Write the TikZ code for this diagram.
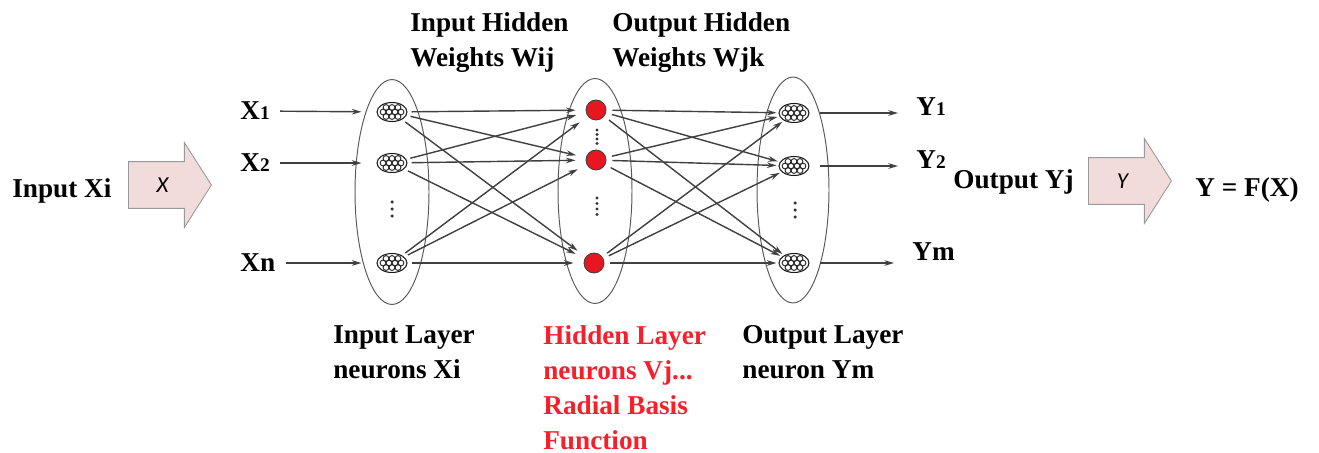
\documentclass[tikz,border=0pt]{standalone}
\usepackage{fontspec}
\setmainfont{Liberation Serif}
\newfontfamily\calfont{Carlito}
\usetikzlibrary{arrows.meta,shapes.geometric,shapes.arrows}

\definecolor{rbfred}{RGB}{232,22,32}
\definecolor{txtred}{RGB}{245,32,44}
\definecolor{arrpink}{RGB}{242,219,219}
\definecolor{wire}{RGB}{64,64,64}

% small index digit after X and Y
\newcommand{\nrsub}[1]{{\fontsize{11}{12}\selectfont #1}}

\tikzset{
  lbl/.style={font=\fontsize{15.5}{19.9}\selectfont\bfseries, inner sep=0pt},
  conn/.style={wire, line width=0.8pt, -{Stealth[length=5.5pt,width=3.2pt]}},
  layer/.style={draw=black!65, line width=0.55pt},
  cell/.style={ellipse, draw=black!90, line width=0.6pt, fill=white,
    minimum width=0.6cm, minimum height=0.38cm, inner sep=0pt,
    path picture={
      \foreach \dx/\dy in {-6/-4.5,0/-4.5,6/-4.5,
                           -9/0,-3/0,3/0,9/0,
                           -6/4.5,0/4.5,6/4.5}
        \draw[black!85, line width=0.55pt]
          ([shift={(\dx,\dy)}]path picture bounding box.center) circle (0.058cm);
    }},
  rbf/.style={circle, draw=black!75, line width=0.5pt, fill=rbfred,
    minimum size=0.4cm, inner sep=0pt},
  bigarrow/.style={single arrow, draw=black!40, line width=0.5pt, fill=arrpink,
    single arrow head extend=0.38cm, single arrow tip angle=115,
    minimum height=1.66cm, inner xsep=0.1cm, inner ysep=0pt,
    text height=0.61cm, text depth=0.31cm,
    font=\calfont\itshape\fontsize{13}{14}\selectfont}
}

\begin{document}
\begin{tikzpicture}[x=0.02cm, y=-0.02cm]
\useasboundingbox (0,0) rectangle (1319,453);

% layer outlines
\draw[layer] (392,192) ellipse [x radius=0.74cm, y radius=2.25cm];
\draw[layer] (595,191) ellipse [x radius=0.74cm, y radius=2.25cm];
\draw[layer] (793,190) ellipse [x radius=0.72cm, y radius=2.26cm];

% neurons
\node[cell] (i1) at (392,112) {};
\node[cell] (i2) at (392,163) {};
\node[cell] (i3) at (392,263) {};
\node[rbf] (h1) at (596,110) {};
\node[rbf] (h2) at (596,160) {};
\node[rbf] (h3) at (594,263) {};
\node[cell] (o1) at (794,113) {};
\node[cell] (o2) at (794,166) {};
\node[cell] (o3) at (794,263) {};

% vertical dots
\foreach \yy in {202,209,216} \fill[black!80] (392,\yy) circle (0.035cm);
\foreach \yy in {130,134.5,139,143.5} \fill[black!80] (597,\yy) circle (0.032cm);
\foreach \yy in {198,203.5,209,214.5} \fill[black!80] (597,\yy) circle (0.032cm);
\foreach \yy in {203,210,217} \fill[black!80] (795,\yy) circle (0.035cm);

% inputs and outputs
\node[lbl, anchor=west] (x1) at (240,111) {X\nrsub{1}};
\node[lbl, anchor=west] (x2) at (240,163) {X\nrsub{2}};
\node[lbl, anchor=west] (xn) at (240,263) {Xn};
\node[lbl, anchor=base west] (y1) at (916,115) {Y\nrsub{1}};
\node[lbl, anchor=base west] (y2) at (916,168) {Y\nrsub{2}};
\node[lbl, anchor=base west] (ym) at (912,260) {Ym};

\draw[conn, shorten <=0.2cm, shorten >=0.3cm] (x1) -- (i1);
\draw[conn, shorten <=0.2cm, shorten >=0.3cm] (x2) -- (i2);
\draw[conn, shorten <=0.2cm, shorten >=0.3cm] (xn) -- (i3);
\draw[conn, shorten <=0.2cm, shorten >=0.36cm] (o1.east) -- (o1.east -| y1.west);
\draw[conn, shorten <=0.2cm, shorten >=0.36cm] (o2.east) -- (o2.east -| y2.west);
\draw[conn, shorten <=0.2cm, shorten >=0.36cm] (o3.east) -- (o3.east -| ym.west);

% weights
\foreach \a in {i1,i2,i3}
  \foreach \b in {h1,h2,h3}
    \draw[conn, shorten <=0.08cm, shorten >=0.2cm] (\a) -- (\b);
\foreach \a in {h1,h2,h3}
  \foreach \b in {o1,o2,o3}
    \draw[conn, shorten <=0.12cm, shorten >=0.04cm] (\a) -- (\b);

% big arrows
\node[bigarrow, anchor=tail] (xarr) at (128,185) {X};
\node[bigarrow, anchor=tail] (yarr) at (1088,181) {Y};

% texts
\node[lbl, anchor=base west] (inp) at (12,197) {Input Xi};
\node[lbl, anchor=base west] (outp) at (953,188) {Output Yj};
\node[lbl, anchor=base west] (fx) at (1195,196) {Y = F(X)};

\node[lbl, anchor=north west, align=left] (wij) at (410,12.5) {Input Hidden\\Weights Wij};
\node[lbl, anchor=north west, align=left] (wjk) at (612,12.5) {Output Hidden\\Weights Wjk};

\node[lbl, anchor=north west, align=left] (inlay) at (333,325.5) {Input Layer\\neurons Xi};
\node[lbl, anchor=north west, align=left, text=txtred] (hidlay) at (543,325.5)
  {Hidden Layer\\neurons Vj...\\Radial Basis\\Function};
\node[lbl, anchor=north west, align=left] (outlay) at (742,325.5) {Output Layer\\neuron Ym};
\end{tikzpicture}
\end{document}
